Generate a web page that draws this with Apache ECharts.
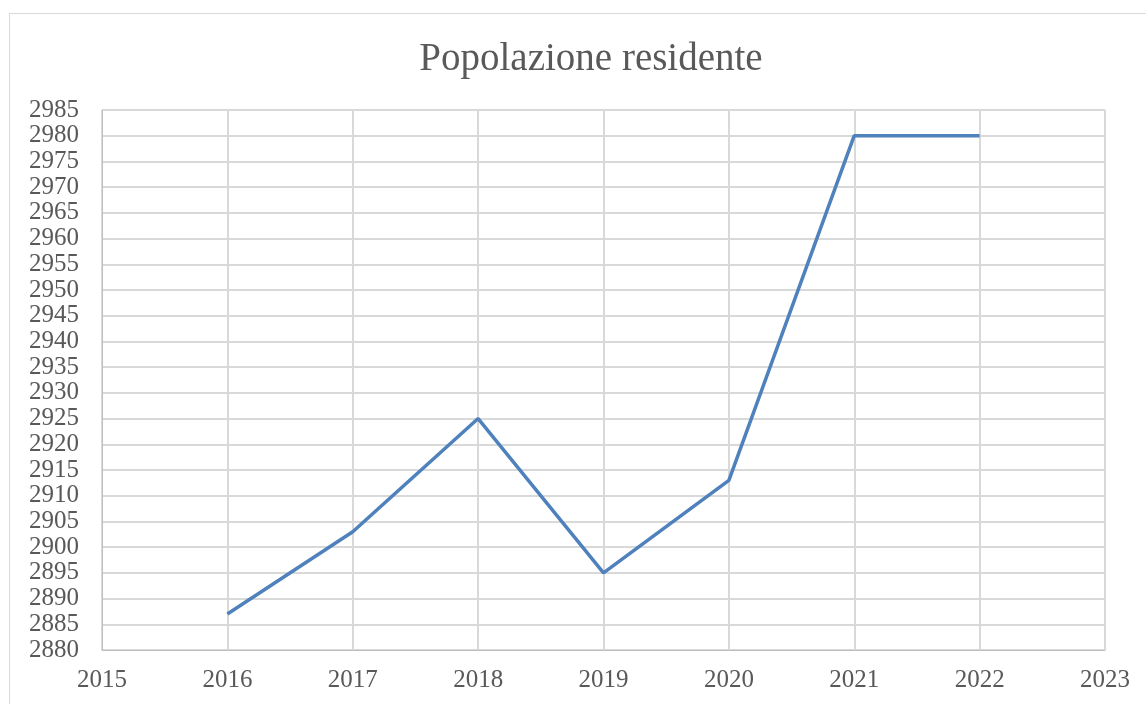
<!DOCTYPE html>
<html><head><meta charset="utf-8">
<script src="https://cdn.jsdelivr.net/npm/echarts@6/dist/echarts.min.js"></script>
<style>html,body{margin:0;padding:0;background:#fff}#c{width:1146px;height:704px}
#frame{position:absolute;left:9px;top:13px;width:1146px;height:700px;border:1px solid #d9d9d9;box-sizing:border-box;pointer-events:none}</style>
</head><body><div id="c"></div><div id="frame"></div>
<script>
const titleText = "Popolazione residente";
const years = [2016, 2017, 2018, 2019, 2020, 2021, 2022];
const popolazione = [2887, 2903, 2925, 2895, 2913, 2980, 2980];
const xMin = 2015, xMax = 2023, yMin = 2880, yMax = 2985, yStep = 5;

const font = "'Liberation Serif', 'Times New Roman', serif";
const chart = echarts.init(document.getElementById('c'), null, {renderer:'canvas'});
chart.setOption({
  backgroundColor: '#fff',
  animation: false,
  title: {text: titleText, left: 586, textAlign: 'center', top: 35,
    textStyle: {fontFamily: font, fontSize: 39, fontWeight: 'normal', color: '#595959'}},
  grid: {left: 102, right: 41, top: 110, bottom: 54, containLabel: false},
  xAxis: {type: 'value', min: xMin, max: xMax, interval: 1,
    axisLine: {show: true, lineStyle: {color: '#bfbfbf', width: 1}},
    axisTick: {show: false},
    splitLine: {show: true, lineStyle: {color: '#d9d9d9', width: 2}},
    axisLabel: {fontFamily: font, fontSize: 25, color: '#595959', margin: 18, formatter: v => String(v)}},
  yAxis: {type: 'value', min: yMin, max: yMax, interval: yStep,
    axisLine: {show: true, lineStyle: {color: '#bfbfbf', width: 1}},
    axisTick: {show: false},
    splitLine: {show: true, lineStyle: {color: '#d9d9d9', width: 2}},
    axisLabel: {fontFamily: font, fontSize: 25, color: '#595959', margin: 23, formatter: v => String(v)}},
  series: [{type: 'line', data: years.map((y, i) => [y, popolazione[i]]),
    showSymbol: false, lineStyle: {color: '#4f81bd', width: 3.5}, itemStyle: {color: '#4f81bd'}}]
});
</script></body></html>
